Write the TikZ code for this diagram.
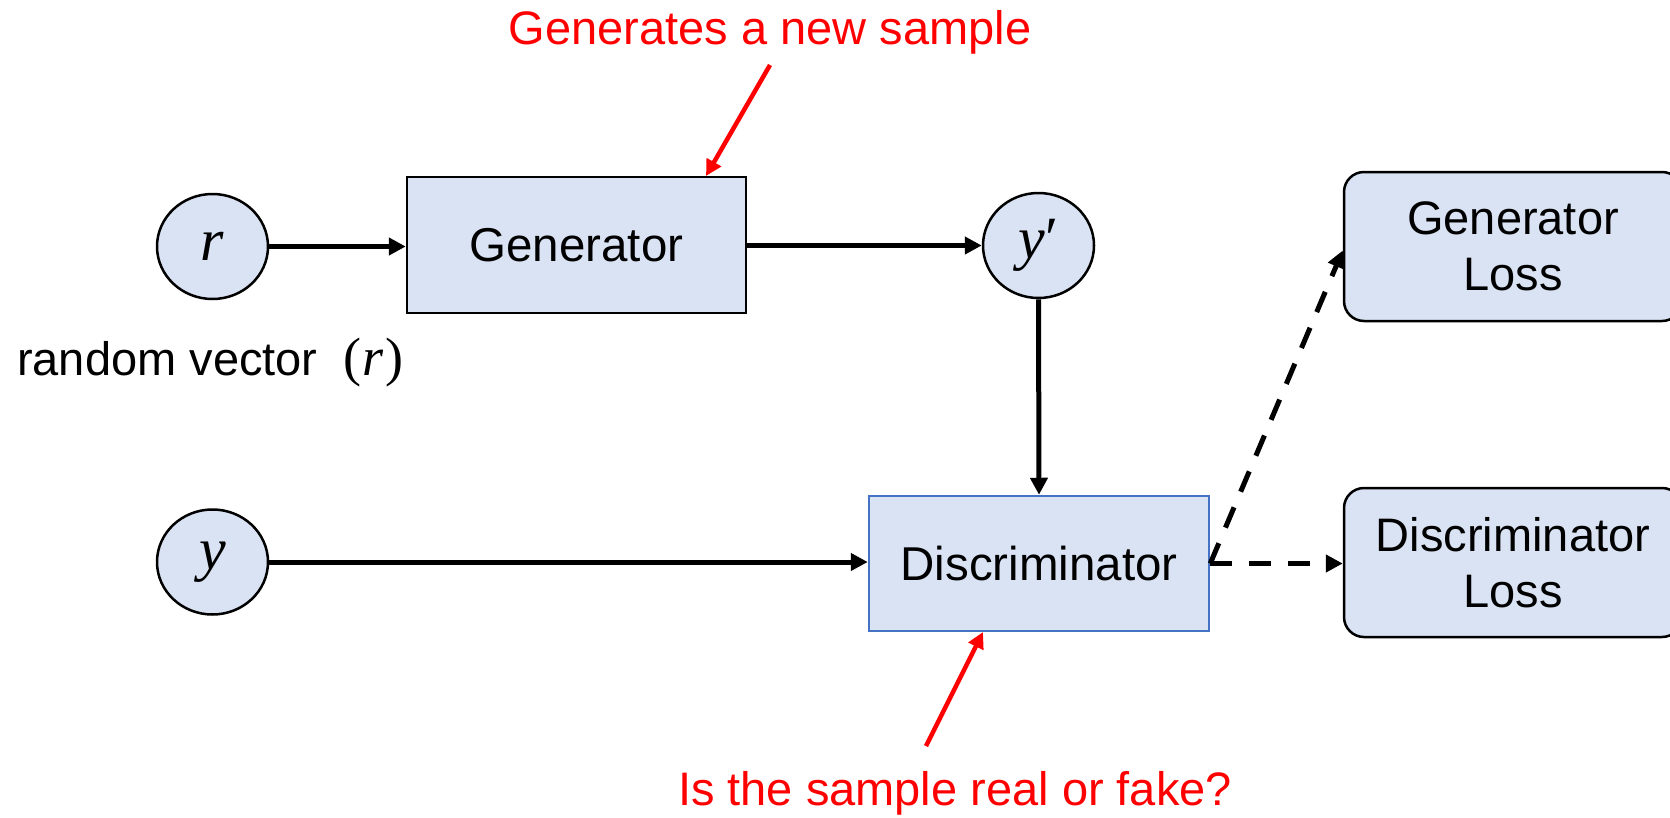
\documentclass[tikz,border=0pt]{standalone}
\usepackage{fontspec}
\setmainfont{Liberation Sans}
\newfontfamily\varfont{Liberation Serif}
\usetikzlibrary{arrows.meta,shapes.geometric}
\definecolor{boxfill}{HTML}{DAE3F3}
\definecolor{accentblue}{HTML}{4472C4}
\definecolor{redtxt}{HTML}{FF0000}
\tikzset{
  circnode/.style={ellipse, draw=black, line width=2.5pt, fill=boxfill, minimum width=111pt, minimum height=105pt, inner sep=0pt, font=\varfont\fontsize{60}{62}\selectfont},
  procbox/.style={rectangle, draw=black, line width=2.5pt, fill=boxfill, minimum width=339pt, minimum height=136pt, inner sep=0pt, font=\fontsize{47.5}{56}\selectfont},
  lossbox/.style={rectangle, rounded corners=20pt, draw=black, line width=2.5pt, fill=boxfill, minimum width=338pt, minimum height=149pt, inner sep=0pt, align=center, font=\fontsize{47}{56}\selectfont},
  flow/.style={line width=5pt, -{Triangle[length=17pt,width=17pt]}},
  dflow/.style={line width=5pt, dash pattern=on 22pt off 17pt, -{Triangle[length=17pt,width=17pt]}},
  redarrow/.style={draw=redtxt, line width=4.5pt, -{Triangle[length=16pt,width=16pt]}},
  redlabel/.style={text=redtxt, inner sep=0pt, font=\fontsize{47}{56}\selectfont},
}
\begin{document}
\begin{tikzpicture}[x=1pt,y=-1pt]
\useasboundingbox (0,0) rectangle (1670,817);

\node[circnode] (r) at (212.5,246.5) {\itshape r};
\node[circnode] (yp) at (1038.5,245.5) {\itshape y\/\upshape ′};
\node[circnode] (y) at (212.5,562) {\itshape y};

\node[procbox] (gen) at (576.5,245) {Generator};
\node[procbox, draw=accentblue, minimum width=340pt, minimum height=135pt] (disc) at (1039,563.5) {Discriminator};

\node[lossbox] (gl) at (1513,246.5) {Generator\\Loss};
\node[lossbox] (dl) at (1513,562.5) {Discriminator\\Loss};

\node[anchor=base west, inner sep=0pt, font=\fontsize{47}{56}\selectfont] (rv) at (17,375) {random vector \ {\varfont\fontsize{54}{60}\selectfont(\kern1pt\textit{r}\kern2pt)}};

\node[redlabel, anchor=base] (top) at (770,44) {Generates a new sample};
\node[redlabel, anchor=base] (bot) at (955,805) {Is the sample real or fake?};
\coordinate (topstart) at (770,65);
\coordinate (topend) at (706,176);
\coordinate (botstart) at (926,746);
\coordinate (botend) at (983,632);

\draw[flow] (r.east) -- (r.east -| gen.west);
\draw[flow] (gen.east |- yp.west) -- (yp.west);
\draw[flow] (yp.south) -- (disc.north);
\draw[flow] (y.east) -- (y.east -| disc.west);

\draw[dflow] (disc.east) -- ([yshift=-4pt]gl.west);
\draw[dflow] (disc.east) -- (disc.east -| dl.west);

\draw[redarrow] (topstart) -- (topend);
\draw[redarrow] (botstart) -- (botend);
\end{tikzpicture}
\end{document}
